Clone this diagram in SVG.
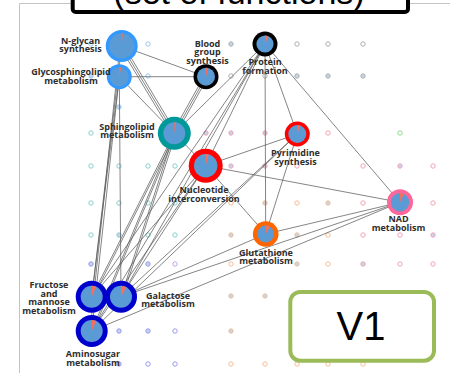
<svg xmlns="http://www.w3.org/2000/svg" width="450" height="373" viewBox="0 0 450 373">
  <style>
    .frame{fill:none;stroke:#c4c4c4;stroke-width:1}
    .title-box{fill:#fff;stroke:#000;stroke-width:4}
    .title{font-family:"Liberation Sans",Arial,sans-serif;font-size:34px;fill:#000;text-anchor:middle}
    .v1-box{fill:#fff;stroke:#9bbb59;stroke-width:4}
    .v1{font-family:"Liberation Sans",Arial,sans-serif;font-size:40px;fill:#000;text-anchor:middle}
    .dot{stroke-width:1}
    .h{fill:#fff}
    .f{fill:#c6d6ea}
    .gray{stroke:#b0b0b0}.lb{stroke:#9cc8ee}.teal{stroke:#88d0d0}.pink{stroke:#f4a4b4}
    .orange{stroke:#f6bf96}.blue{stroke:#9a9af2}.purple{stroke:#c7a2e6}.green{stroke:#8fdc8f}
    .edges line{stroke:#5e5e5e;stroke-width:0.9;stroke-opacity:0.85}
    .pie{fill:#5b9bd5}
    .slice{fill:#f2705f}
    .lbl{font-family:"Open Sans","Noto Sans",sans-serif;font-weight:bold;font-size:9px;fill:#2e2e2e;text-anchor:middle}
  </style>

  <!-- outer panel -->
  <path class="frame" d="M19.5,373 V3.5 H450"/>

  <!-- title banner, clipped by the top edge -->
  <g id="title">
    <rect class="title-box" x="72.7" y="-30" width="335.3" height="42" rx="3"/>
    <text class="title" x="239" y="3.5">(set of functions)</text>
  </g>

  <!-- background grid of map units -->
  <g id="grid">
    <circle class="dot h lb" cx="91" cy="44" r="2.2"/>
    <circle class="dot h lb" cx="148" cy="44" r="2.2"/>
    <circle class="dot f gray" cx="231" cy="44" r="2.2"/>
    <circle class="dot h gray" cx="297" cy="44" r="2.2"/>
    <circle class="dot h gray" cx="328" cy="44" r="2.2"/>
    <circle class="dot h gray" cx="363" cy="44" r="2.2"/>

    <circle class="dot f lb" cx="91" cy="76" r="2.2"/>
    <circle class="dot h lb" cx="148" cy="76" r="2.2"/>
    <circle class="dot h gray" cx="231" cy="76" r="2.2"/>
    <circle class="dot h gray" cx="265" cy="76" r="2.2"/>
    <circle class="dot f gray" cx="297" cy="76" r="2.2"/>
    <circle class="dot f gray" cx="328" cy="76" r="2.2"/>
    <circle class="dot f gray" cx="363" cy="76" r="2.2"/>

    <circle class="dot f lb" cx="119" cy="107" r="2.2"/>

    <circle class="dot h teal" cx="91" cy="133" r="2.2"/>
    <circle class="dot f pink" cx="206" cy="133" r="2.2"/>
    <circle class="dot f pink" cx="231" cy="133" r="2.2"/>
    <circle class="dot f pink" cx="265" cy="133" r="2.2"/>
    <circle class="dot h pink" cx="328" cy="133" r="2.2"/>
    <circle class="dot h green" cx="400" cy="133" r="2.2"/>

    <circle class="dot h teal" cx="91" cy="166" r="2.2"/>
    <circle class="dot h teal" cx="119" cy="166" r="2.2"/>
    <circle class="dot h teal" cx="148" cy="166" r="2.2"/>
    <circle class="dot h teal" cx="175" cy="166" r="2.2"/>
    <circle class="dot f pink" cx="231" cy="166" r="2.2"/>
    <circle class="dot f pink" cx="265" cy="166" r="2.2"/>
    <circle class="dot h pink" cx="297" cy="166" r="2.2"/>
    <circle class="dot h pink" cx="363" cy="166" r="2.2"/>
    <circle class="dot f pink" cx="400" cy="166" r="2.2"/>
    <circle class="dot h pink" cx="433" cy="166" r="2.2"/>

    <circle class="dot h teal" cx="91" cy="203" r="2.2"/>
    <circle class="dot h teal" cx="119" cy="203" r="2.2"/>
    <circle class="dot h teal" cx="148" cy="203" r="2.2"/>
    <circle class="dot h teal" cx="175" cy="203" r="2.2"/>
    <circle class="dot h orange" cx="231" cy="203" r="2.2"/>
    <circle class="dot f orange" cx="265" cy="203" r="2.2"/>
    <circle class="dot h orange" cx="297" cy="203" r="2.2"/>
    <circle class="dot f orange" cx="328" cy="203" r="2.2"/>
    <circle class="dot h pink" cx="363" cy="203" r="2.2"/>
    <circle class="dot h pink" cx="433" cy="203" r="2.2"/>

    <circle class="dot h teal" cx="91" cy="235" r="2.2"/>
    <circle class="dot f teal" cx="119" cy="235" r="2.2"/>
    <circle class="dot h teal" cx="148" cy="235" r="2.2"/>
    <circle class="dot h teal" cx="175" cy="235" r="2.2"/>
    <circle class="dot f orange" cx="231" cy="235" r="2.2"/>
    <circle class="dot f orange" cx="297" cy="235" r="2.2"/>
    <circle class="dot h orange" cx="328" cy="235" r="2.2"/>
    <circle class="dot h pink" cx="363" cy="235" r="2.2"/>
    <circle class="dot h pink" cx="400" cy="235" r="2.2"/>
    <circle class="dot f pink" cx="433" cy="235" r="2.2"/>

    <circle class="dot f blue" cx="91" cy="264" r="2.2"/>
    <circle class="dot f blue" cx="148" cy="264" r="2.2"/>
    <circle class="dot h purple" cx="175" cy="264" r="2.2"/>
    <circle class="dot h orange" cx="231" cy="264" r="2.2"/>
    <circle class="dot f orange" cx="297" cy="264" r="2.2"/>
    <circle class="dot h orange" cx="328" cy="264" r="2.2"/>
    <circle class="dot f pink" cx="363" cy="264" r="2.2"/>
    <circle class="dot h pink" cx="400" cy="264" r="2.2"/>
    <circle class="dot h pink" cx="433" cy="264" r="2.2"/>

    <circle class="dot f orange" cx="231" cy="296" r="2.2"/>
    <circle class="dot f orange" cx="265" cy="296" r="2.2"/>

    <circle class="dot f blue" cx="119" cy="331" r="2.2"/>
    <circle class="dot f blue" cx="148" cy="331" r="2.2"/>
    <circle class="dot h blue" cx="175" cy="331" r="2.2"/>
    <circle class="dot f orange" cx="231" cy="331" r="2.2"/>

    <circle class="dot f blue" cx="119" cy="364" r="2.2"/>
    <circle class="dot h blue" cx="148" cy="364" r="2.2"/>
    <circle class="dot h blue" cx="175" cy="364" r="2.2"/>
    <circle class="dot h orange" cx="231" cy="364" r="2.2"/>
    <circle class="dot h orange" cx="265" cy="364" r="2.2"/>
    <circle class="dot h orange" cx="297" cy="364" r="2.2"/>
    <circle class="dot h orange" cx="328" cy="364" r="2.2"/>
    <circle class="dot h orange" cx="363" cy="364" r="2.2"/>
  </g>

  <!-- connectors between functional modules -->
  <g id="connectors" class="edges">
    <line x1="121.7" y1="46" x2="206" y2="76.7"/>
    <line x1="119.3" y1="76.7" x2="206" y2="76.7"/>
    <line x1="121.7" y1="46" x2="174.3" y2="133.3"/>
    <line x1="123.4" y1="45" x2="176" y2="132.3"/>
    <line x1="120" y1="47" x2="172.6" y2="134.3"/>
    <line x1="119.3" y1="76.7" x2="174.3" y2="133.3"/>
    <line x1="121.7" y1="46" x2="91.7" y2="296.7"/>
    <line x1="120" y1="46" x2="90" y2="331"/>
    <line x1="119.3" y1="76.7" x2="91.7" y2="296.7"/>
    <line x1="119.3" y1="76.7" x2="91.7" y2="331"/>
    <line x1="119.3" y1="76.7" x2="121" y2="296.7"/>
    <line x1="206" y1="76.7" x2="174.3" y2="133.3"/>
    <line x1="207.6" y1="77.6" x2="175.9" y2="134.2"/>
    <line x1="204.4" y1="75.8" x2="172.7" y2="132.4"/>
    <line x1="265" y1="44" x2="174.3" y2="133.3"/>
    <line x1="265" y1="44" x2="205.7" y2="165.7"/>
    <line x1="265" y1="44" x2="91.7" y2="296.7"/>
    <line x1="265" y1="44" x2="121" y2="296.7"/>
    <line x1="265" y1="44" x2="91.7" y2="331"/>
    <line x1="265" y1="44" x2="265.7" y2="234"/>
    <line x1="265" y1="44" x2="297.3" y2="134"/>
    <line x1="265" y1="44" x2="400" y2="202.3"/>
    <line x1="174.3" y1="133.3" x2="205.7" y2="165.7"/>
    <line x1="174.3" y1="133.3" x2="91.7" y2="296.7"/>
    <line x1="175.6" y1="134" x2="93" y2="297.4"/>
    <line x1="174.3" y1="133.3" x2="121" y2="296.7"/>
    <line x1="175.8" y1="133.8" x2="122.5" y2="297.2"/>
    <line x1="174.3" y1="133.3" x2="91.7" y2="331"/>
    <line x1="175.6" y1="133.9" x2="93" y2="331.6"/>
    <line x1="205.7" y1="165.7" x2="91.7" y2="296.7"/>
    <line x1="205.7" y1="165.7" x2="121" y2="296.7"/>
    <line x1="205.7" y1="165.7" x2="91.7" y2="331"/>
    <line x1="205.7" y1="165.7" x2="297.3" y2="134"/>
    <line x1="205.7" y1="165.7" x2="400" y2="202.3"/>
    <line x1="205.7" y1="165.7" x2="265.7" y2="234"/>
    <line x1="297.3" y1="134" x2="265.7" y2="234"/>
    <line x1="297.3" y1="134" x2="121" y2="296.7"/>
    <line x1="297.3" y1="134" x2="91.7" y2="331"/>
    <line x1="265.7" y1="234" x2="400" y2="202.3"/>
    <line x1="400" y1="202.3" x2="91.7" y2="331"/>
    <line x1="400" y1="202.3" x2="121" y2="296.7"/>
    <line x1="265.7" y1="234" x2="121" y2="296.7"/>
  </g>

  <!-- module nodes: coloured ring, blue pie with a small red slice -->
  <g id="n-glycan">
    <circle cx="121.7" cy="46" r="16" fill="#3399ff"/>
    <circle class="pie" cx="121.7" cy="46" r="12.5"/>
    <path class="slice" d="M121.7,46 V33.5 A12.5,12.5 0 0 1 122.8,33.55 Z"/>
    <text class="lbl" x="80.5" y="43.5">N-glycan</text>
    <text class="lbl" x="80.5" y="52.2">synthesis</text>
  </g>
  <g id="glycosphingolipid">
    <circle cx="119.3" cy="76.7" r="12.5" fill="#3399ff"/>
    <circle class="pie" cx="119.3" cy="76.7" r="9.5"/>
    <path class="slice" d="M119.3,76.7 V67.2 A9.5,9.5 0 0 1 121.3,67.4 Z"/>
    <text class="lbl" x="71" y="75.3">Glycosphingolipid</text>
    <text class="lbl" x="71" y="84">metabolism</text>
  </g>
  <g id="blood-group">
    <circle cx="206" cy="76.7" r="12.5" fill="#000"/>
    <circle class="pie" cx="206" cy="76.7" r="9"/>
    <path class="slice" d="M206,76.7 V67.7 A9,9 0 0 1 208.3,68 Z"/>
    <text class="lbl" x="207.5" y="46.5">Blood</text>
    <text class="lbl" x="207.5" y="55.2">group</text>
    <text class="lbl" x="207.5" y="63.9">synthesis</text>
  </g>
  <g id="protein-formation">
    <circle cx="265" cy="44" r="12.5" fill="#000"/>
    <circle class="pie" cx="265" cy="44" r="8.6"/>
    <path class="slice" d="M265,44 V35.4 A8.6,8.6 0 0 1 268.6,36.2 Z"/>
    <text class="lbl" x="265" y="65">Protein</text>
    <text class="lbl" x="265" y="73.7">formation</text>
  </g>
  <g id="sphingolipid">
    <circle cx="174.3" cy="133.3" r="16.5" fill="#009999"/>
    <circle class="pie" cx="174.3" cy="133.3" r="11"/>
    <path class="slice" d="M174.3,133.3 V122.3 A11,11 0 0 1 176.2,122.5 Z"/>
    <text class="lbl" x="127" y="129.5">Sphingolipid</text>
    <text class="lbl" x="127" y="138.2">metabolism</text>
  </g>
  <g id="nucleotide">
    <circle cx="205.7" cy="165.7" r="17" fill="#ff0000"/>
    <circle class="pie" cx="205.7" cy="165.7" r="11.7"/>
    <path class="slice" d="M205.7,165.7 V154 A11.7,11.7 0 0 1 208.7,154.4 Z"/>
    <text class="lbl" x="204" y="193.2">Nucleotide</text>
    <text class="lbl" x="204" y="201.9">interconversion</text>
  </g>
  <g id="pyrimidine">
    <circle cx="297.3" cy="134" r="12.5" fill="#ff0000"/>
    <circle class="pie" cx="297.3" cy="134" r="9"/>
    <path class="slice" d="M297.3,134 V125 A9,9 0 0 1 300.4,125.5 Z"/>
    <text class="lbl" x="295.5" y="156.3">Pyrimidine</text>
    <text class="lbl" x="295.5" y="165">synthesis</text>
  </g>
  <g id="nad">
    <circle cx="400" cy="202.3" r="13" fill="#ff6699"/>
    <circle class="pie" cx="400" cy="202.3" r="9.2"/>
    <path class="slice" d="M400,202.3 V193.1 A9.2,9.2 0 0 1 403.9,194 Z"/>
    <text class="lbl" x="398.5" y="222.3">NAD</text>
    <text class="lbl" x="398.5" y="231">metabolism</text>
  </g>
  <g id="glutathione">
    <circle cx="265.7" cy="234" r="12.8" fill="#ff6600"/>
    <circle class="pie" cx="265.7" cy="234" r="8.4"/>
    <path class="slice" d="M265.7,234 V225.6 A8.4,8.4 0 0 1 269.9,226.7 Z"/>
    <text class="lbl" x="266" y="255.6">Glutathione</text>
    <text class="lbl" x="266" y="264.3">metabolism</text>
  </g>
  <g id="fructose-mannose">
    <circle cx="91.7" cy="296.7" r="16" fill="#0000cc"/>
    <circle class="pie" cx="91.7" cy="296.7" r="11"/>
    <path class="slice" d="M91.7,296.7 V285.7 A11,11 0 0 1 96.3,286.7 Z"/>
    <text class="lbl" x="49" y="288">Fructose</text>
    <text class="lbl" x="49" y="296.7">and</text>
    <text class="lbl" x="49" y="305.4">mannose</text>
    <text class="lbl" x="49" y="314.1">metabolism</text>
  </g>
  <g id="galactose">
    <circle cx="121" cy="296.7" r="16" fill="#0000cc"/>
    <circle class="pie" cx="121" cy="296.7" r="11"/>
    <path class="slice" d="M121,296.7 V285.7 A11,11 0 0 1 126.5,287.2 Z"/>
    <text class="lbl" x="168" y="298.6">Galactose</text>
    <text class="lbl" x="168" y="307.3">metabolism</text>
  </g>
  <g id="aminosugar">
    <circle cx="91.7" cy="331" r="16" fill="#0000cc"/>
    <circle class="pie" cx="91.7" cy="331" r="11"/>
    <path class="slice" d="M91.7,331 V320 A11,11 0 0 1 96.3,321 Z"/>
    <text class="lbl" x="93" y="357.2">Aminosugar</text>
    <text class="lbl" x="93" y="365.9">metabolism</text>
  </g>

  <!-- version tag -->
  <g id="v1">
    <rect class="v1-box" x="290.3" y="292" width="143.7" height="68.7" rx="10"/>
    <text class="v1" x="361" y="340">V1</text>
  </g>
</svg>
